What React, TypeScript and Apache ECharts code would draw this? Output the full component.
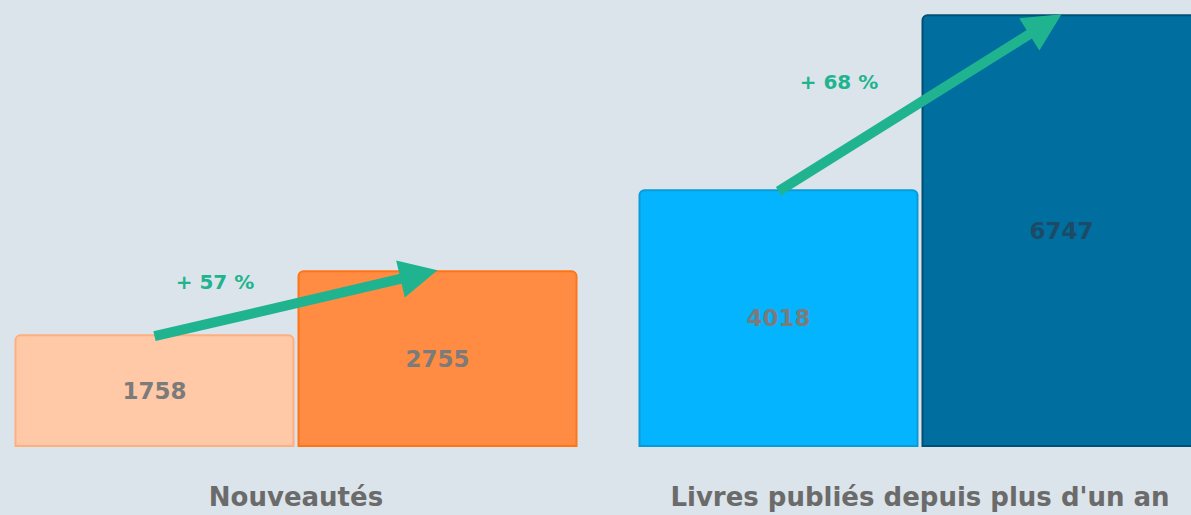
import React, { useEffect, useRef } from "react";
import * as echarts from "echarts";

const categories = ["Nouveautés", "Livres publiés depuis plus d'un an"];
const beforeValues = [1758, 4018];
const afterValues = [2755, 6747];
const beforeColors = ["#ffc8a6", "#05b4ff"];
const beforeBorders = ["#ffae80", "#0a9ad6"];
const afterColors = ["#ff8c42", "#006f9f"];
const afterBorders = ["#ff7417", "#004f74"];
const labelColors = [["#7b7b7b", "#7b7b7b"], ["#7b7b7b", "#1b4b66"]];

const BAR_WIDTH = 280;
const BAR_GAP = 3;
const GREEN = "#1fb48f";
const FONT = "'DejaVu Sans', sans-serif";

export default function App() {
  const ref = useRef<HTMLDivElement>(null);
  useEffect(() => {
    if (!ref.current) return;
    const chart = echarts.init(ref.current, undefined, { renderer: "svg" });
    const off = (BAR_WIDTH + BAR_GAP) / 2;
    chart.setOption({
      animation: false,
      backgroundColor: "#dbe4ea",
      grid: { left: 0, right: 0, top: 8, bottom: 68 },
      xAxis: {
        type: "category",
        data: categories,
        axisLine: { show: false },
        axisTick: { show: false },
        axisLabel: {
          interval: 0,
          hideOverlap: false,
          margin: 37,
          fontSize: 26,
          fontWeight: "bold",
          fontFamily: FONT,
          color: "#6b6b6b",
        },
      },
      yAxis: {
        type: "value",
        min: 0,
        max: 7000,
        show: false,
        splitLine: { show: false },
      },
      series: [
        {
          type: "bar",
          barWidth: BAR_WIDTH,
          barGap: (BAR_GAP / BAR_WIDTH) * 100 + "%",
          data: beforeValues.map((v, i) => ({
            value: v,
            itemStyle: { color: beforeColors[i], borderColor: beforeBorders[i] },
            label: { color: labelColors[i][0] },
          })),
          itemStyle: { borderWidth: 2, borderRadius: [5, 5, 0, 0] },
          label: {
            show: true,
            position: "inside",
            fontSize: 23,
            fontWeight: "bold",
            fontFamily: FONT,
          },
        },
        {
          type: "bar",
          barWidth: BAR_WIDTH,
          data: afterValues.map((v, i) => ({
            value: v,
            itemStyle: { color: afterColors[i], borderColor: afterBorders[i] },
            label: { color: labelColors[i][1] },
          })),
          itemStyle: { borderWidth: 2, borderRadius: [5, 5, 0, 0] },
          label: {
            show: true,
            position: "inside",
            fontSize: 23,
            fontWeight: "bold",
            fontFamily: FONT,
          },
        },
        {
          type: "custom",
          z: 10,
          data: categories.map((_, i) => [i, beforeValues[i], afterValues[i]]),
          encode: { x: 0, y: [1, 2] },
          renderItem: (params: any, api: any) => {
            const idx = api.value(0);
            const b = api.value(1);
            const a = api.value(2);
            const p0 = api.coord([idx, b]);
            const p1 = api.coord([idx, a]);
            const sx = p0[0] - off;
            const sy = p0[1] + 2;
            const tx = p1[0] + off;
            const ty = p1[1];
            const dx = tx - sx;
            const dy = ty - sy;
            const len = Math.sqrt(dx * dx + dy * dy);
            const ux = dx / len;
            const uy = dy / len;
            const headLen = 38;
            const headHalf = 19;
            const bx = tx - ux * headLen;
            const by = ty - uy * headLen;
            const lx = tx - ux * headLen * 0.6;
            const ly = ty - uy * headLen * 0.6;
            const pct = Math.round(((a - b) / b) * 100);
            return {
              type: "group",
              children: [
                {
                  type: "line",
                  shape: { x1: sx, y1: sy, x2: lx, y2: ly },
                  style: { stroke: GREEN, lineWidth: 10, lineCap: "butt" },
                },
                {
                  type: "polygon",
                  shape: {
                    points: [
                      [tx, ty],
                      [bx - uy * headHalf, by + ux * headHalf],
                      [bx + uy * headHalf, by - ux * headHalf],
                    ],
                  },
                  style: { fill: GREEN },
                },
                {
                  type: "text",
                  x: (sx + tx) / 2 - 81,
                  y: (sy + ty) / 2 - 21,
                  style: {
                    text: "+ " + pct + " %",
                    fill: GREEN,
                    font: "bold 20px " + FONT,
                    align: "center",
                    verticalAlign: "middle",
                  },
                },
              ],
            };
          },
        },
      ],
    });
    return () => chart.dispose();
  }, []);
  return (
    <div
      ref={ref}
      style={{ position: "fixed", left: -16, top: -10, width: 1248, height: 525 }}
    />
  );
}
